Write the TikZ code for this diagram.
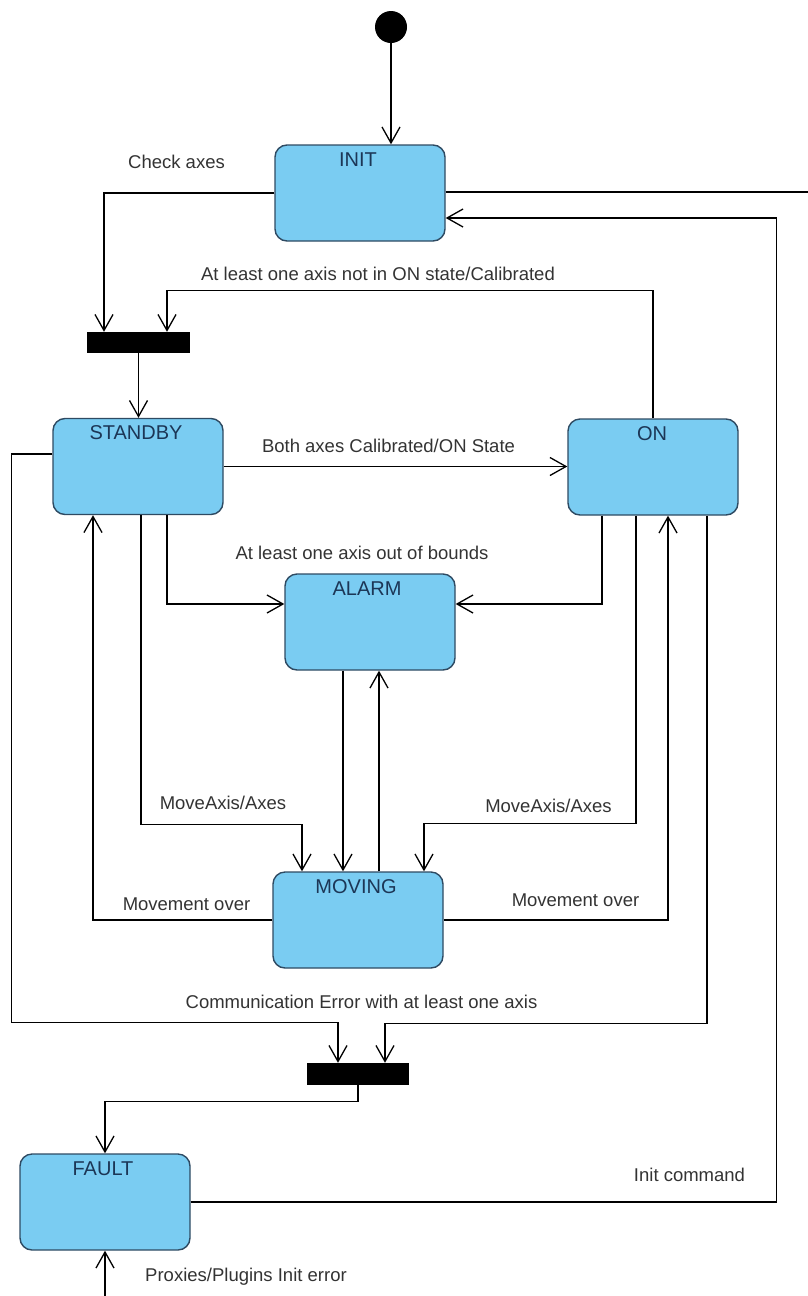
\documentclass[tikz,border=0pt]{standalone}
\usepackage{fontspec}
\setmainfont{Liberation Sans}
\usetikzlibrary{arrows.meta,calc}
\definecolor{statefill}{HTML}{7ACCF2}
\definecolor{stateline}{HTML}{2E4A62}
\definecolor{titlecol}{HTML}{1C3656}
\definecolor{labelcol}{HTML}{333333}

\begin{document}
\begin{tikzpicture}[x=1pt,y=-1pt,
  state/.style={draw=stateline, line width=1.4pt, fill=statefill,
    rounded corners=12pt, minimum width=170pt, minimum height=96pt, inner sep=0pt},
  syncbar/.style={fill=black, draw=none, minimum width=103pt,
    minimum height=21pt, inner sep=0pt},
  conn/.style={line width=1.3pt,
    -{Straight Barb[length=16pt,width=18pt,line width=1.3pt]}},
  plainline/.style={line width=1.3pt},
  lbl/.style={font=\fontsize{18.5}{22}\selectfont, text=labelcol,
    anchor=base, inner sep=0pt},
  ttl/.style={font=\fontsize{20}{24}\selectfont, text=titlecol,
    anchor=center, inner sep=0pt}]

\useasboundingbox (0,0) rectangle (808,1296);

% initial pseudo-state
\node[circle, fill=black, minimum size=32pt, inner sep=0pt] (start) at (391,27) {};

% states
\node[state] (init)    at (360,193)   {};
\node[state] (standby) at (138,466.5) {};
\node[state] (on)      at (653,467)   {};
\node[state] (alarm)   at (370,622)   {};
\node[state] (moving)  at (358,920)   {};
\node[state] (fault)   at (105,1202)  {};

% state titles
\node[ttl] (initT)    at ($(init.north)+(-2,15)$)    {INIT};
\node[ttl] (standbyT) at ($(standby.north)+(-2,15)$) {STANDBY};
\node[ttl] (onT)      at ($(on.north)+(-1,15)$)      {ON};
\node[ttl] (alarmT)   at ($(alarm.north)+(-3,15)$)   {ALARM};
\node[ttl] (movingT)  at ($(moving.north)+(-2,15)$)  {MOVING};
\node[ttl] (faultT)   at ($(fault.north)+(-2,15)$)   {FAULT};

% join bars
\node[syncbar] (bar1) at (138.5,342.5) {};
\node[syncbar, minimum width=102pt, minimum height=22pt] (bar2) at (358,1074) {};

% connector end points
\coordinate (b1a) at ([xshift=-34.5pt]bar1.north);
\coordinate (b1b) at ([xshift=28.5pt]bar1.north);
\coordinate (b2a) at ([xshift=-20pt]bar2.north);
\coordinate (b2b) at ([xshift=27pt]bar2.north);
\coordinate (a1) at ([xshift=-27pt]alarm.south);
\coordinate (m1) at ([xshift=21pt]moving.north);
\coordinate (exitR) at (808,192);
\coordinate (entryB) at (105,1296);

% transitions
\draw[conn] (start) -- (start |- init.north);
\draw[conn] (init.west) -| (b1a);
\draw[conn] (on.north) -- ++(0,-128) -| (b1b);
\draw[conn] (bar1.south) -- (bar1.south |- standby.north);
\draw[conn] (standby.east) -- (standby.east -| on.west);
\draw[conn] ([xshift=29pt]standby.south) |- ([yshift=18pt]alarm.west);
\draw[conn] ([xshift=-51pt]on.south) |- ([yshift=18pt]alarm.east);
\draw[conn] (a1) -- (a1 |- moving.north);
\draw[conn] (m1) -- (m1 |- alarm.south);
\draw[conn] ([xshift=3pt]standby.south) -- ++(0,309) -| ([xshift=-56pt]moving.north);
\draw[conn] ([xshift=-17pt]on.south) -- ++(0,308) -| ([xshift=66pt]moving.north);
\draw[conn] (moving.west) -| ([xshift=-45pt]standby.south);
\draw[conn] (moving.east) -| ([xshift=15pt]on.south);
\draw[conn] ([yshift=12.5pt]standby.west) -- ++(-41,0) |- ([yshift=40pt]b2a) -- (b2a);
\draw[conn] ([xshift=54pt]on.south) -- ++(0,508) -| (b2b);
\draw[conn] (bar2.south) -- ++(0,16) -| (fault.north);
\draw[conn] (fault.east) -- ++(586,0) |- ([yshift=-25pt]init.east);
\draw[plainline] (init.east |- exitR) -- (exitR);
\draw[conn] (entryB) -- (fault.south);

% transition labels
\node[lbl] (lCheck)   at (176.5,168) {Check axes};
\node[lbl] (lNotOn)   at (378,280)   {At least one axis not in ON state/Calibrated};
\node[lbl] (lBoth)    at (388.5,452) {Both axes Calibrated/ON State};
\node[lbl] (lBounds)  at (362,559)   {At least one axis out of bounds};
\node[lbl] (lMoveL)   at (223,809)   {MoveAxis/Axes};
\node[lbl] (lMoveR)   at (548.5,812) {MoveAxis/Axes};
\node[lbl] (lOverL)   at (186.5,910) {Movement over};
\node[lbl] (lOverR)   at (575.5,906) {Movement over};
\node[lbl] (lComm)    at (361.5,1008) {Communication Error with at least one axis};
\node[lbl] (lInitCmd) at (689.5,1181) {Init command};
\node[lbl] (lProxies) at (246,1281)  {Proxies/Plugins Init error};
\end{tikzpicture}
\end{document}
